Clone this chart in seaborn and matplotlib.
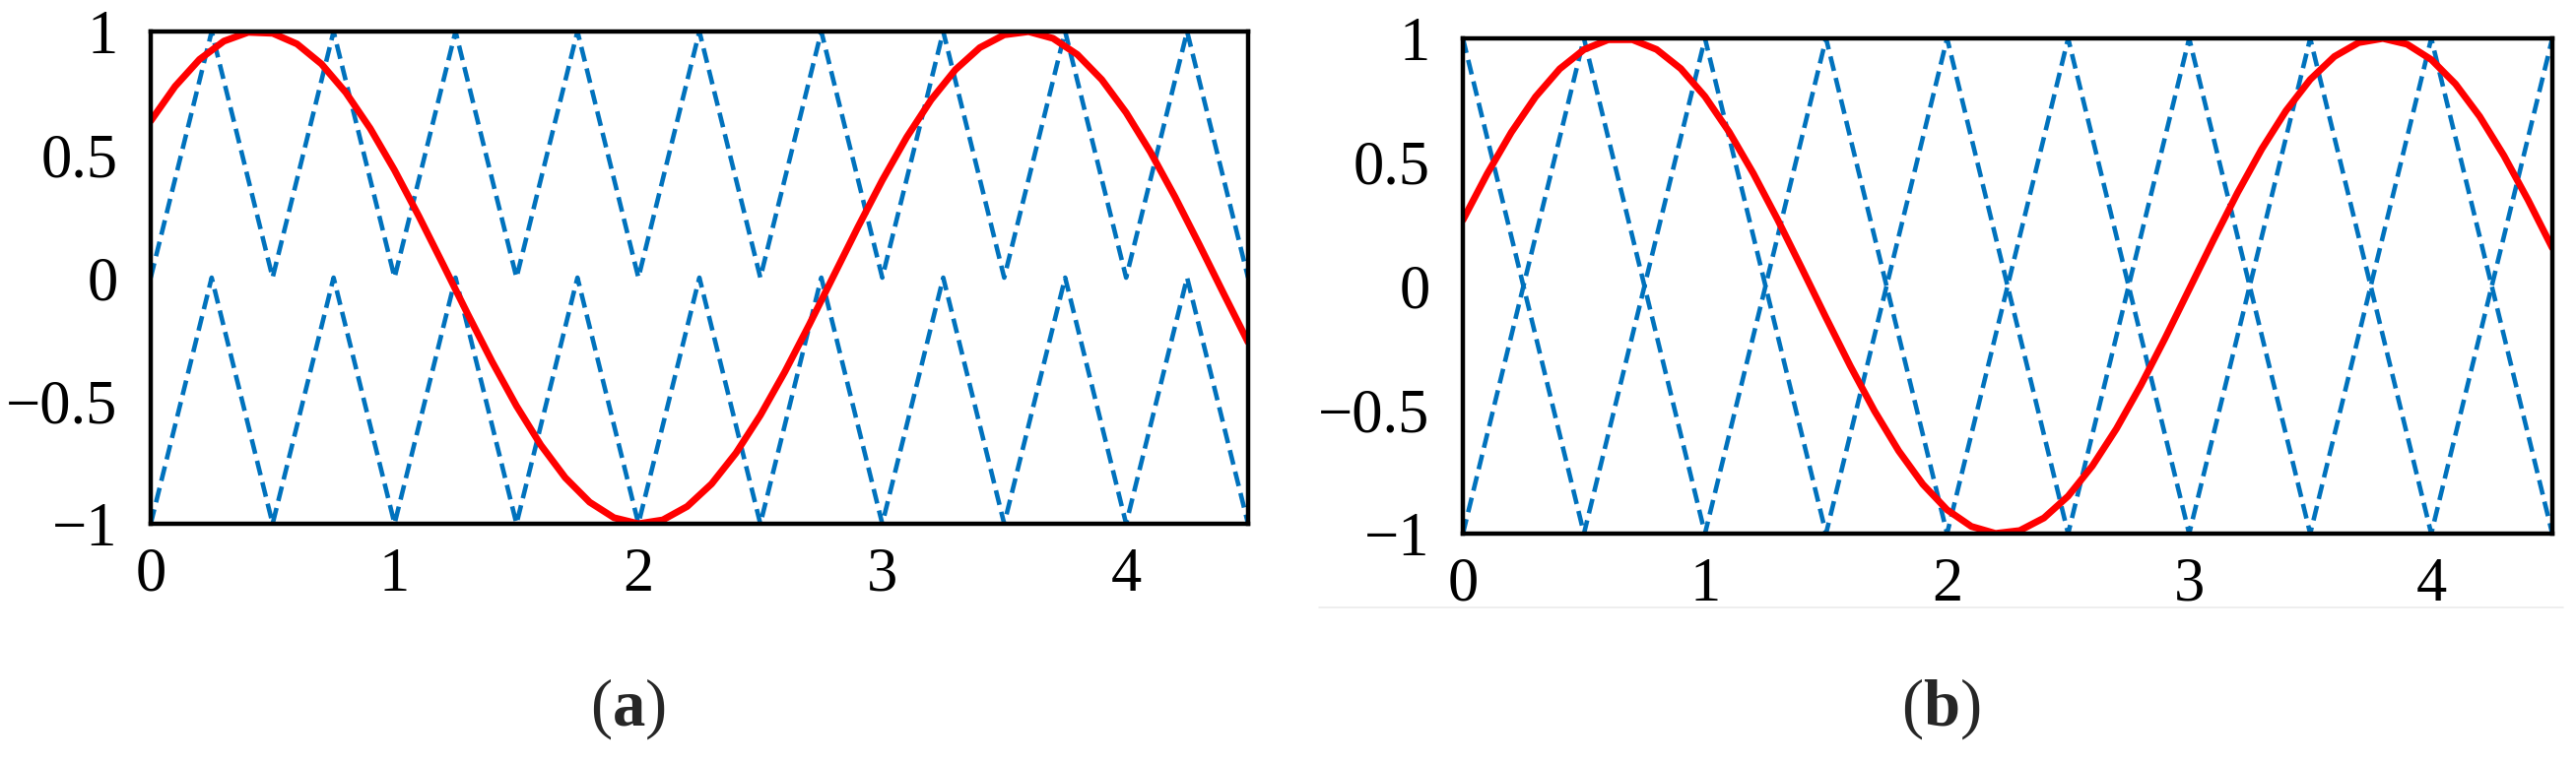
import numpy as np
import matplotlib.pyplot as plt
from matplotlib.lines import Line2D
import seaborn as sns

# ---- data ----
# (a) two in-phase carriers, stacked (0..1 and -1..0)
carrier_x_a = [0.0, 0.25, 0.5, 0.75, 1.0, 1.25, 1.5, 1.75, 2.0, 2.25,
               2.5, 2.75, 3.0, 3.25, 3.5, 3.75, 4.0, 4.25, 4.5]
upper_a = [0, 1, 0, 1, 0, 1, 0, 1, 0, 1, 0, 1, 0, 1, 0, 1, 0, 1, 0]
lower_a = [-1, 0, -1, 0, -1, 0, -1, 0, -1, 0, -1, 0, -1, 0, -1, 0, -1, 0, -1]

# (b) two full-range carriers in opposition
carrier_x_b = [0.0, 0.5, 1.0, 1.5, 2.0, 2.5, 3.0, 3.5, 4.0, 4.5]
carrier1_b = [1, -1, 1, -1, 1, -1, 1, -1, 1, -1]
carrier2_b = [-1, 1, -1, 1, -1, 1, -1, 1, -1, 1]

# reference (modulating) waves
ref_x = [0.0, 0.1, 0.2, 0.3, 0.4, 0.5, 0.6, 0.7, 0.8, 0.9,
         1.0, 1.1, 1.2, 1.3, 1.4, 1.5, 1.6, 1.7, 1.8, 1.9,
         2.0, 2.1, 2.2, 2.3, 2.4, 2.5, 2.6, 2.7, 2.8, 2.9,
         3.0, 3.1, 3.2, 3.3, 3.4, 3.5, 3.6, 3.7, 3.8, 3.9,
         4.0, 4.1, 4.2, 4.3, 4.4, 4.5]
ref_a = [0.6365, 0.7771, 0.8866, 0.9608, 0.9968, 0.9929, 0.9495, 0.8683, 0.7523, 0.6065,
         0.4364, 0.2490, 0.0516, -0.1478, -0.3414, -0.5213, -0.6804, -0.8126, -0.9121, -0.9754,
         -0.9997, -0.9843, -0.9296, -0.8378, -0.7126, -0.5590, -0.3832, -0.1920, 0.0068, 0.2053,
         0.3957, 0.5703, 0.7221, 0.8451, 0.9345, 0.9866, 0.9994, 0.9723, 0.9064, 0.8045,
         0.6705, 0.5097, 0.3286, 0.1344, -0.0652, -0.2621]
ref_b = [0.2667, 0.4529, 0.6210, 0.7643, 0.8772, 0.9551, 0.9949, 0.9951, 0.9556, 0.8780,
         0.7654, 0.6222, 0.4543, 0.2683, 0.0715, -0.1280, -0.3225, -0.5042, -0.6657, -0.8007,
         -0.9037, -0.9708, -0.9991, -0.9876, -0.9367, -0.8485, -0.7265, -0.5755, -0.4015, -0.2116,
         -0.0132, 0.1857, 0.3772, 0.5537, 0.7081, 0.8343, 0.9272, 0.9831, 0.9999, 0.9768,
         0.9147, 0.8162, 0.6851, 0.5268, 0.3474, 0.1542]

xtick_vals = [0, 1, 2, 3, 4]
xtick_labels = ['0', '1', '2', '3', '4']
ytick_vals = [-1, -0.5, 0, 0.5, 1]
ytick_labels = ['\u22121', '\u22120.5', '0', '0.5', '1']
panel_labels = ['a', 'b']

# ---- style ----
sns.set_style("white")
plt.rcParams['font.family'] = ['Liberation Serif', 'DejaVu Serif']
plt.rcParams['mathtext.fontset'] = 'custom'
plt.rcParams['mathtext.rm'] = 'Liberation Serif'
plt.rcParams['mathtext.bf'] = 'Liberation Serif:bold'

BLUE = '#0072BD'
RED = '#FF0000'
FS = 45

fig = plt.figure(figsize=(26.15, 7.75), dpi=100)
ax_a = fig.add_axes([0.0585, 0.3135, 0.4260, 0.6452])
ax_b = fig.add_axes([0.5679, 0.3006, 0.4229, 0.6490])

carrier_style = dict(color=BLUE, lw=3.3, linestyle=(0, (3.3, 1.6)), legend=False)
ref_style = dict(color=RED, lw=5.0, legend=False)

# (a)
sns.lineplot(x=np.array(carrier_x_a), y=np.array(upper_a), ax=ax_a, **carrier_style)
sns.lineplot(x=np.array(carrier_x_a), y=np.array(lower_a), ax=ax_a, **carrier_style)
sns.lineplot(x=np.array(ref_x), y=np.array(ref_a), ax=ax_a, **ref_style)

# (b)
sns.lineplot(x=np.array(carrier_x_b), y=np.array(carrier1_b), ax=ax_b, **carrier_style)
sns.lineplot(x=np.array(carrier_x_b), y=np.array(carrier2_b), ax=ax_b, **carrier_style)
sns.lineplot(x=np.array(ref_x), y=np.array(ref_b), ax=ax_b, **ref_style)

for ax in (ax_a, ax_b):
    ax.set_xlim(0, 4.5)
    ax.set_ylim(-1, 1)
    ax.set_xticks(xtick_vals)
    ax.set_xticklabels(xtick_labels, fontsize=FS)
    ax.set_yticks(ytick_vals)
    ax.set_yticklabels(ytick_labels, fontsize=FS)
    ax.set_xlabel('')
    ax.set_ylabel('')
    ax.tick_params(axis='both', direction='in', length=13, width=3.2,
                   top=False, right=False, colors='black')
    ax.tick_params(axis='x', pad=17)
    ax.tick_params(axis='y', pad=24)
    for sp in ax.spines.values():
        sp.set_visible(True)
        sp.set_color('black')
        sp.set_linewidth(3.2)

# panel captions
for xc, lab in zip([0.2436, 0.7533], panel_labels):
    fig.text(xc, 0.071, r'$\mathrm{(}\mathbf{' + lab + r'}\mathrm{)}$',
             ha='center', va='center', fontsize=48)

# faint border line left under panel (b) in the source
fig.add_artist(Line2D([0.512, 0.995], [0.204, 0.204], color='#ebebeb', lw=1.2))

fig.savefig('out.png', dpi=100, facecolor='white')
